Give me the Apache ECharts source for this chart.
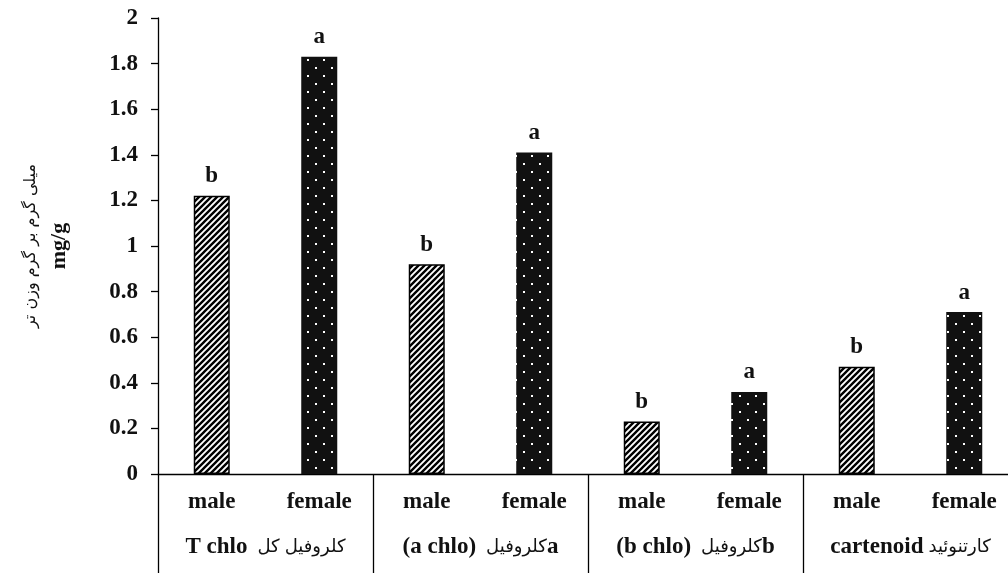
<!DOCTYPE html>
<html>
<head>
<meta charset="utf-8">
<script src="https://cdn.jsdelivr.net/npm/echarts@6/dist/echarts.min.js"></script>
<style>
  html, body { margin: 0; padding: 0; background: #fff; overflow: hidden; }
  /* plot runs a little past the right edge, as in the source figure */
  #chart { width: 1018px; height: 573px; }
</style>
</head>
<body>
<div id="chart"></div>
<script>
// values
const sexLabels = ['male', 'female', 'male', 'female', 'male', 'female', 'male', 'female'];
const values = [1.22, 1.83, 0.92, 1.41, 0.23, 0.36, 0.47, 0.71];
const letters = ['b', 'a', 'b', 'a', 'b', 'a', 'b', 'a'];
const groupLabels = [
  '{b|T chlo}{s|  }{ar|کل}{s| }{ar|کلروفیل}',
  '{b|(a chlo)}{s|  }{ar|کلروفیل}{b|a}',
  '{b|(b chlo)}{s|  }{ar|کلروفیل}{b|b}',
  '{b|cartenoid}{s| }{ar|کارتنوئید}'
];
const yTicks = { min: 0, max: 2, interval: 0.2 };

const serif = '"Liberation Serif", "Times New Roman", serif';
const arabic = '"DejaVu Sans", "Noto Sans", sans-serif';

// hatch for male bars
function stripes() {
  const c = document.createElement('canvas');
  c.width = 6; c.height = 6;
  const ctx = c.getContext('2d');
  ctx.fillStyle = '#fff';
  ctx.fillRect(0, 0, 6, 6);
  ctx.strokeStyle = '#000';
  ctx.lineWidth = 2.4;
  ctx.beginPath();
  ctx.moveTo(-1, 7); ctx.lineTo(7, -1);
  ctx.moveTo(-4, 4); ctx.lineTo(4, -4);
  ctx.moveTo(2, 10); ctx.lineTo(10, 2);
  ctx.stroke();
  return c;
}
// dotted black for female bars
function dots() {
  const c = document.createElement('canvas');
  c.width = 16; c.height = 16;
  const ctx = c.getContext('2d');
  ctx.fillStyle = '#111';
  ctx.fillRect(0, 0, 16, 16);
  ctx.fillStyle = '#fff';
  ctx.fillRect(11, 3, 2, 2);
  ctx.fillRect(3, 11, 2, 2);
  return c;
}
const malePattern = { image: stripes(), repeat: 'repeat' };
const femalePattern = { image: dots(), repeat: 'repeat' };

const barData = values.map(function (v, i) {
  return {
    value: v,
    itemStyle: {
      color: sexLabels[i] === 'male' ? malePattern : femalePattern,
      borderColor: '#000',
      borderWidth: sexLabels[i] === 'male' ? 1.5 : 0
    }
  };
});

const myChart = echarts.init(document.getElementById('chart'));
myChart.setOption({
  animation: false,
  backgroundColor: '#fff',
  grid: { left: 158, top: 18, right: 0, bottom: 99 },
  xAxis: [
    {
      type: 'category',
      data: sexLabels,
      axisLine: { lineStyle: { color: '#000', width: 1.3 } },
      axisTick: { show: false },
      axisLabel: {
        interval: 0,
        color: '#111',
        fontFamily: serif,
        fontWeight: 'bold',
        fontSize: 23,
        margin: 17
      }
    },
    {
      type: 'category',
      position: 'bottom',
      data: groupLabels,
      axisLine: { show: false },
      axisTick: { show: true, interval: 0, length: 100, lineStyle: { color: '#000', width: 1.3 } },
      axisLabel: {
        interval: 0,
        margin: 62,
        formatter: function (v) { return v; },
        rich: {
          b: { fontFamily: serif, fontWeight: 'bold', fontSize: 23, color: '#111' },
          s: { fontFamily: serif, fontSize: 20 },
          ar: { fontFamily: arabic, fontSize: 18, color: '#111' }
        }
      }
    }
  ],
  yAxis: {
    type: 'value',
    min: yTicks.min,
    max: yTicks.max,
    interval: yTicks.interval,
    name: '{p|میلی گرم بر گرم وزن تر}\n{m|mg/g}',
    nameLocation: 'middle',
    nameRotate: 90,
    nameGap: 86,
    nameTextStyle: {
      rich: {
        p: { fontFamily: arabic, fontSize: 16, color: '#111', lineHeight: 30 },
        m: { fontFamily: serif, fontWeight: 'bold', fontSize: 22, color: '#111', lineHeight: 26 }
      }
    },
    axisLine: { show: true, lineStyle: { color: '#000', width: 1.3 } },
    axisTick: { show: true, length: 7, lineStyle: { color: '#000', width: 1.3 } },
    splitLine: { show: false },
    axisLabel: {
      color: '#111',
      fontFamily: serif,
      fontWeight: 'bold',
      fontSize: 23,
      margin: 20
    }
  },
  series: [
    {
      type: 'bar',
      xAxisIndex: 0,
      barWidth: 36,
      data: barData,
      label: {
        show: true,
        position: 'top',
        distance: 8,
        fontFamily: serif,
        fontWeight: 'bold',
        fontSize: 23,
        color: '#111',
        formatter: function (p) { return letters[p.dataIndex]; }
      }
    }
  ]
});
</script>
</body>
</html>
